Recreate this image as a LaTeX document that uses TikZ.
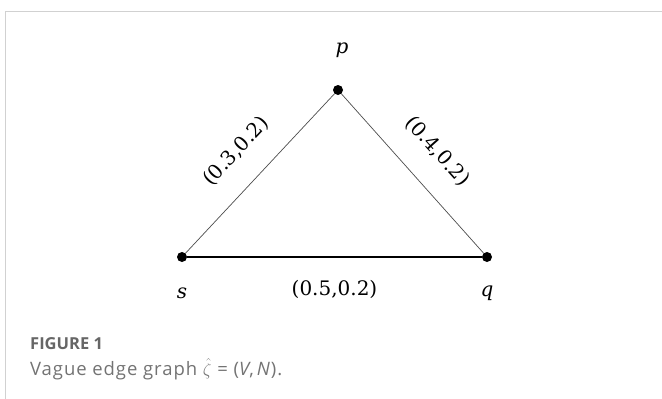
\documentclass[tikz,border=0pt]{standalone}
\usepackage{fontspec}
\setmainfont{DejaVu Serif}
\newfontfamily\capfont{Open Sans}
\usepackage{tikz}
\usetikzlibrary{positioning}

\begin{document}
\begin{tikzpicture}[
  x=1pt, y=-1pt,
  vert/.style={circle, fill=black, inner sep=0pt, minimum size=10pt},
  vlab/.style={font=\fontsize{20}{22}\selectfont\itshape},
  elab/.style={font=\fontsize{20}{22}\selectfont, sloped, inner sep=0pt},
  edge/.style={draw=black!70, line width=0.7pt},
]
\useasboundingbox (0,0) rectangle (662,399);
\draw[black!18, line width=1pt] (5,399) -- (5,11) -- (662,11);

\node[vert] (p) at (338,90) {};
\node[vert] (s) at (182,257) {};
\node[vert] (q) at (487,257) {};

\node[vlab] (pl) at (342,50) {p};
\node[vlab] (sl) at (182,293) {s};
\node[vlab] (ql) at (487,293) {q};

\draw[edge] (s) -- node[elab, above=23pt] {(0.3,0.2)} (p);
\draw[edge] (p) -- node[elab, above=24pt] {(0.4,0.2)} (q);
\draw[edge, line width=1.1pt, draw=black] (s) -- node[elab, below=23pt] {(0.5,0.2)} (q);

\node[anchor=base west, font=\capfont\fontsize{16.5}{18}\selectfont\bfseries, text=black!60, inner sep=0pt] (fig) at (30,349) {FIGURE 1};
\node[anchor=base west, font=\capfont\fontsize{18.5}{20}\selectfont\addfontfeatures{LetterSpace=5}, text=black!55, inner sep=0pt] (cap) at (30,375)
  {Vague edge graph $\hat{\zeta}$ = (\textit{V},\,\textit{N}).};
\end{tikzpicture}
\end{document}
